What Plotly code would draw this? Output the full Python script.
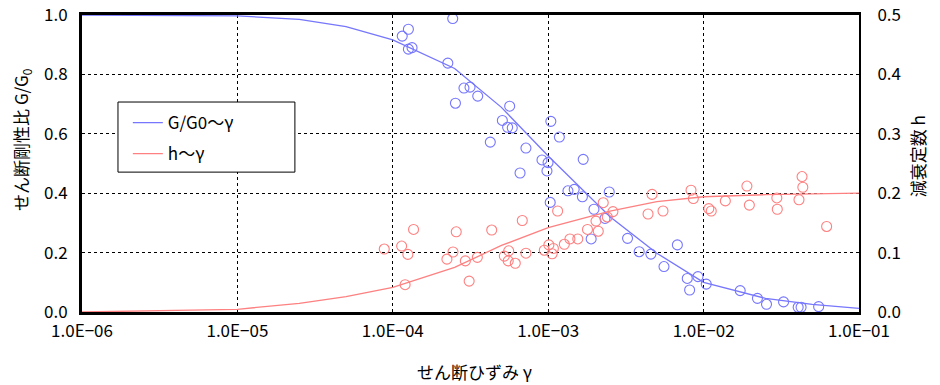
import plotly.graph_objects as go

# measured points: shear modulus ratio G/G0 vs shear strain
gamma_g = [1.15e-4, 1.26e-4, 1.26e-4, 1.33e-4, 2.43e-4, 2.26e-4, 2.53e-4, 2.87e-4, 3.14e-4, 3.52e-4,
           4.24e-4, 5.07e-4, 5.48e-4, 5.65e-4, 5.87e-4, 6.59e-4, 7.19e-4, 9.12e-4, 9.82e-4, 9.98e-4,
           1.03e-3, 1.04e-3, 1.18e-3, 1.34e-3, 1.47e-3, 1.66e-3, 1.68e-3, 1.89e-3, 1.97e-3, 2.32e-3,
           2.47e-3, 3.24e-3, 3.85e-3, 4.58e-3, 5.56e-3, 6.78e-3, 7.85e-3, 8.13e-3, 9.20e-3, 1.04e-2,
           1.72e-2, 2.22e-2, 2.54e-2, 3.27e-2, 4.06e-2, 4.24e-2, 5.50e-2]
g_ratio = [0.929, 0.952, 0.885, 0.890, 0.988, 0.838, 0.703, 0.754, 0.757, 0.727,
           0.572, 0.645, 0.622, 0.693, 0.620, 0.468, 0.552, 0.512, 0.475, 0.503,
           0.369, 0.642, 0.589, 0.408, 0.413, 0.388, 0.514, 0.246, 0.346, 0.315,
           0.404, 0.248, 0.203, 0.195, 0.153, 0.226, 0.113, 0.074, 0.119, 0.094,
           0.072, 0.046, 0.026, 0.034, 0.016, 0.016, 0.018]

# measured points: damping ratio h vs shear strain
gamma_h = [8.81e-5, 1.14e-4, 1.20e-4, 1.25e-4, 1.36e-4, 2.23e-4, 2.44e-4, 2.56e-4, 2.93e-4, 3.10e-4,
           3.50e-4, 4.33e-4, 5.22e-4, 5.53e-4, 5.57e-4, 6.14e-4, 6.81e-4, 7.19e-4, 9.44e-4, 1.01e-3,
           1.06e-3, 1.08e-3, 1.15e-3, 1.27e-3, 1.38e-3, 1.55e-3, 1.79e-3, 2.03e-3, 2.10e-3, 2.26e-3,
           2.40e-3, 2.61e-3, 4.39e-3, 4.66e-3, 5.48e-3, 8.30e-3, 8.59e-3, 1.08e-2, 1.12e-2, 1.38e-2,
           1.90e-2, 1.97e-2, 2.96e-2, 2.98e-2, 4.11e-2, 4.30e-2, 4.35e-2, 6.19e-2]
h_damp = [0.106, 0.111, 0.046, 0.097, 0.139, 0.089, 0.101, 0.135, 0.086, 0.052,
          0.092, 0.138, 0.094, 0.086, 0.103, 0.082, 0.154, 0.099, 0.104, 0.113,
          0.098, 0.107, 0.170, 0.114, 0.123, 0.123, 0.139, 0.153, 0.136, 0.184,
          0.160, 0.169, 0.165, 0.198, 0.170, 0.205, 0.191, 0.174, 0.170, 0.187,
          0.212, 0.180, 0.192, 0.173, 0.189, 0.228, 0.210, 0.144]

# model curves
gamma_curve = [1e-6, 2.5e-6, 5e-6, 1e-5, 2.5e-5, 5e-5, 1e-4, 2.5e-4, 5e-4, 1e-3,
               2.5e-3, 5e-3, 1e-2, 2.5e-2, 5e-2, 1e-1]
g_curve = [1.0, 0.999, 0.998, 0.997, 0.985, 0.961, 0.916, 0.820, 0.689, 0.525,
           0.321, 0.198, 0.100, 0.046, 0.026, 0.0125]
h_curve = [0.0, 0.001, 0.003, 0.0045, 0.0146, 0.026, 0.0415, 0.075, 0.112, 0.142,
           0.170, 0.186, 0.194, 0.1975, 0.199, 0.200]

x_tickvals = [1e-6, 1e-5, 1e-4, 1e-3, 1e-2, 1e-1]
x_ticktext = ["1.0E−06", "1.0E−05", "1.0E−04", "1.0E−03", "1.0E−02", "1.0E−01"]

BLUE = "rgb(118,118,255)"
RED = "rgb(255,128,128)"
FONT = "Noto Sans CJK JP"

fig = go.Figure()

fig.add_trace(go.Scatter(x=gamma_curve, y=g_curve, mode="lines", name="G/G0～γ",
                         line=dict(color=BLUE, width=1.3), legendgroup="g"))
fig.add_trace(go.Scatter(x=gamma_curve, y=h_curve, mode="lines", name="h～γ", yaxis="y2",
                         line=dict(color=RED, width=1.3), legendgroup="h"))
fig.add_trace(go.Scatter(x=gamma_g, y=g_ratio, mode="markers", showlegend=False,
                         marker=dict(symbol="circle-open", size=10, color=BLUE, line=dict(width=1.1))))
fig.add_trace(go.Scatter(x=gamma_h, y=h_damp, mode="markers", showlegend=False, yaxis="y2",
                         marker=dict(symbol="circle-open", size=10, color=RED, line=dict(width=1.1))))

# axis titles as annotations (y titles both read bottom-to-top, as in the original)
fig.add_annotation(text="せん断剛性比 G/G<sub>0</sub>", textangle=-90, showarrow=False,
                   xref="paper", yref="paper", x=-0.077, y=0.58, xanchor="center", yanchor="middle",
                   font=dict(size=17))
fig.add_annotation(text="減衰定数 h", textangle=-90, showarrow=False,
                   xref="paper", yref="paper", x=1.075, y=0.525, xanchor="center", yanchor="middle",
                   font=dict(size=17))
fig.add_annotation(text="せん断ひずみ γ", showarrow=False,
                   xref="paper", yref="paper", x=0.505, y=-0.202, xanchor="center", yanchor="middle",
                   font=dict(size=17))

# wider legend frame than plotly draws by itself
fig.add_shape(type="rect", xref="paper", yref="paper", x0=0.0463, x1=0.274, y0=0.471, y1=0.707,
              fillcolor="white", line=dict(color="black", width=1), layer="above")

# page body has an 8px margin, so the figure is a bit smaller than the window
fig.update_layout(
    width=932, height=377,
    margin=dict(l=74, r=81, t=7, b=73),
    paper_bgcolor="white", plot_bgcolor="white",
    font=dict(family=FONT, size=17, color="black"),
    xaxis=dict(type="log", range=[-6, -1], tickvals=x_tickvals, ticktext=x_ticktext,
               showgrid=True, gridcolor="black", griddash="dot", gridwidth=1,
               showline=True, linecolor="black", linewidth=3, mirror=True,
               ticks="", ticklabelstandoff=2, automargin=False, ticklabeloverflow="allow"),
    yaxis=dict(range=[0, 1.0], dtick=0.2, tickformat=".1f",
               showgrid=True, gridcolor="black", griddash="dot", gridwidth=1,
               showline=True, linecolor="black", linewidth=3, zeroline=False,
               ticks="", ticklabelstandoff=8, automargin=False, ticklabeloverflow="allow"),
    yaxis2=dict(range=[0, 0.5], dtick=0.1, tickformat=".1f", overlaying="y", side="right",
                showgrid=False, showline=True, linecolor="black", linewidth=2, zeroline=False,
                ticks="", ticklabelstandoff=13, automargin=False, ticklabeloverflow="allow"),
    legend=dict(x=0.059, y=0.697, xanchor="left", yanchor="top",
                bgcolor="rgba(0,0,0,0)", borderwidth=0,
                font=dict(size=17), tracegroupgap=6),
)

fig.write_html("out.html")
